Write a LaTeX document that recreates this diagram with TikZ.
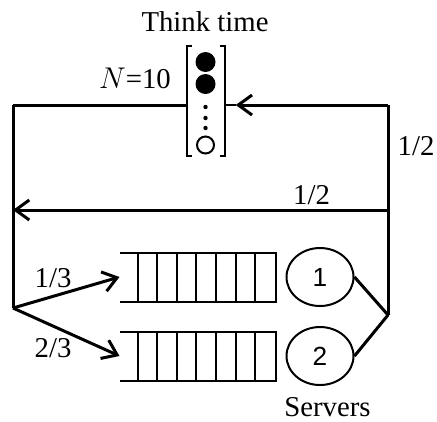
\documentclass[tikz,border=0pt]{standalone}
\usepackage{fontspec}
\setmainfont{Liberation Serif}
\newfontfamily\numfont{Liberation Sans}
\usetikzlibrary{arrows.meta,positioning,shapes.geometric}

\begin{document}
\begin{tikzpicture}[
        x=0.4pt, y=-0.4pt,
        lbl/.style={font=\fontsize{11.5}{13}\selectfont, inner sep=1pt},
        station/.style={minimum width=14.8pt, minimum height=43.6pt, inner sep=0pt},
        queue/.style={minimum width=62pt, minimum height=19.2pt, inner sep=0pt},
        server/.style={draw, ellipse, line width=0.8pt, minimum width=26.8pt, minimum height=23.2pt, inner sep=0pt, font=\numfont\fontsize{10.5}{12}\selectfont},
        wire/.style={line width=1.2pt},
        arr/.style={-{Straight Barb[length=5.5pt,width=8pt]}, line width=1.2pt}
      ]
        \useasboundingbox (0,0) rectangle (437,421);
        % think time station
        \node[station] (think) at (205.5,100.5) {};
        \node[lbl] (thinklbl) at (205,22) {Think time};
        \node[lbl] (pop) at (135,78.5) {$N$=10};
        \draw[line width=0.8pt] ([xshift=2pt]think.north west) -- (think.north west) -- (think.south west) -- ([xshift=2pt]think.south west);
        \draw[line width=0.8pt] ([xshift=-2pt]think.north east) -- (think.north east) -- (think.south east) -- ([xshift=-2pt]think.south east);
        \fill (think.center) ++(0,-38.5) circle (10);
        \fill (think.center) ++(0,-16.5) circle (10);
        \foreach \dy in {6.5,17.5,27.5}
          \fill (think.center) ++(0,\dy) circle (2.2);
        \draw[line width=0.8pt] (think.center) ++(0,44.5) circle (8.5);
        % queues and servers
        \node[queue] (q1) at (197.5,277) {};
        \node[queue] (q2) at (197.5,356) {};
        \foreach \q in {q1,q2} {
          \draw[line width=0.8pt] (\q.north west) -- (\q.north east) -- (\q.south east) -- (\q.south west);
          \foreach \k in {0,...,6}
            \draw[line width=0.8pt] ([xshift=7.2pt+\k*7.84pt]\q.north west) -- ([xshift=7.2pt+\k*7.84pt]\q.south west);
        }
        \node[server, right=4pt of q1] (s1) {1};
        \node[server, right=4pt of q2] (s2) {2};
        \node[lbl] (srv) at (327.5,407) {Servers};
        % routing points
        \coordinate (tl) at (13,105);
        \coordinate (tr) at (388,105);
        \coordinate (join) at (388,315);
        \coordinate (split) at (13,308);
        \coordinate (r2) at (388,210);
        \coordinate (l2) at (13,210);
        \draw[wire] (tl) -- (tl -| think.west);
        \draw[arr] (tr) -- ([xshift=4.5pt]tr -| think.east);
        \draw[line width=0.6pt] (tr -| think.east) -- ([xshift=4.5pt]tr -| think.east);
        \draw[wire, line join=round] (s1.east) -- (join) -- (s2.east);
        \draw[wire] (join) -- (tr);
        \draw[wire] (tl) -- (split);
        \draw[arr] (r2) -- (l2);
        \draw[arr] (split) -- (q1.west);
        \draw[arr] (split) -- (q2.west);
        \node[lbl] (p1) at (416,146) {1/2};
        \node[lbl] (p2) at (311.5,195) {1/2};
        \node[lbl] (p3) at (53,278) {1/3};
        \node[lbl] (p4) at (53,348) {2/3};
      \end{tikzpicture}
\end{document}
